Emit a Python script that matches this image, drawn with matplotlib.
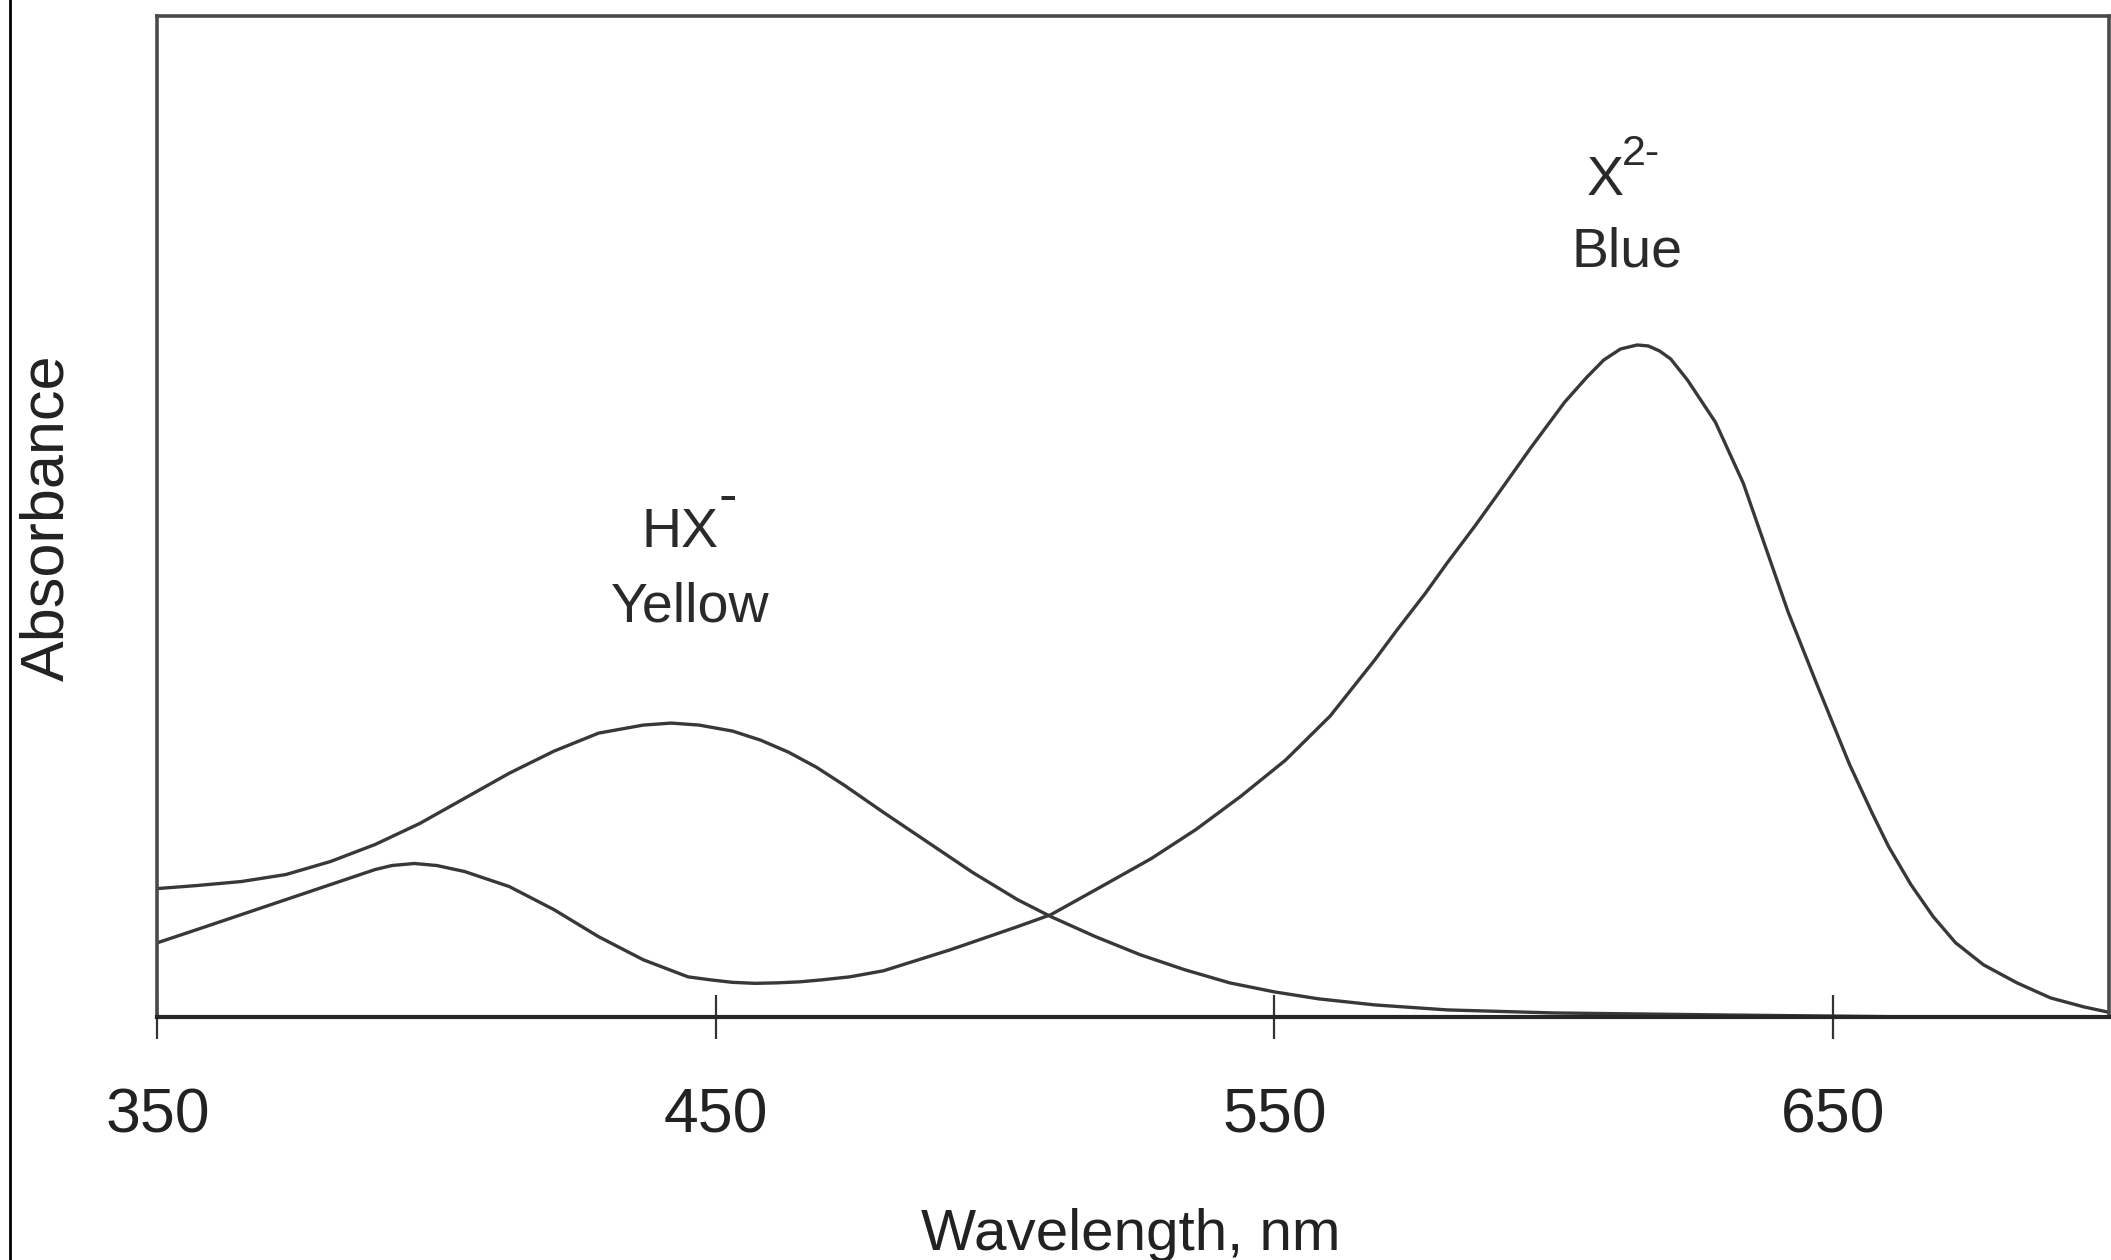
import matplotlib
matplotlib.use('Agg')
import matplotlib.pyplot as plt
from matplotlib.lines import Line2D

plt.rcParams['font.family'] = ['Liberation Sans', 'DejaVu Sans']

# Absorbance spectra (arbitrary units, 0..1)
hx_wavelength = [350, 357, 365, 373, 381, 389, 397, 405, 413, 421, 429, 437,
                 442, 447, 453, 458, 463, 468, 473, 480, 488, 496, 504, 510,
                 518, 526, 534, 542, 550, 558, 568, 581, 600, 630, 665, 700]
hx_absorbance = [0.130, 0.133, 0.137, 0.144, 0.157, 0.174, 0.195, 0.220,
                 0.245, 0.267, 0.285, 0.293, 0.295, 0.293, 0.287, 0.278,
                 0.266, 0.251, 0.233, 0.206, 0.176, 0.146, 0.119, 0.102,
                 0.082, 0.064, 0.049, 0.036, 0.027, 0.020, 0.014, 0.009,
                 0.006, 0.004, 0.002, 0.001]

x2_wavelength = [350, 357, 365, 373, 381, 389, 392, 396, 400, 405, 413, 421,
                 429, 437, 445, 449, 453, 457, 461, 465, 469, 474, 480, 492,
                 504, 510, 520, 528, 536, 544, 552, 560, 568, 572, 577, 581,
                 586, 590, 596, 602, 606, 609, 612, 615, 617, 619, 621, 624,
                 629, 634, 638, 642, 647, 653, 657, 660, 664, 668, 672, 677,
                 683, 689, 695, 700]
x2_absorbance = [0.076, 0.089, 0.104, 0.119, 0.134, 0.149, 0.153, 0.155,
                 0.153, 0.147, 0.132, 0.109, 0.082, 0.059, 0.042, 0.039,
                 0.0365, 0.0355, 0.036, 0.037, 0.039, 0.042, 0.048, 0.069,
                 0.092, 0.104, 0.135, 0.160, 0.189, 0.222, 0.258, 0.302,
                 0.358, 0.388, 0.424, 0.455, 0.492, 0.523, 0.570, 0.615,
                 0.640, 0.657, 0.668, 0.672, 0.671, 0.666, 0.658, 0.637,
                 0.595, 0.534, 0.470, 0.406, 0.336, 0.254, 0.206, 0.172,
                 0.134, 0.102, 0.076, 0.054, 0.036, 0.021, 0.012, 0.006]

x_ticks = [350, 450, 550, 650]

fig = plt.figure(figsize=(21.11, 12.6), dpi=100)
ax = fig.add_axes([0.0746, 0.1929, 0.9245, 0.7944])

line_color = '#383838'
ax.plot(hx_wavelength, hx_absorbance, color=line_color, lw=2.4,
        solid_joinstyle='round')
ax.plot(x2_wavelength, x2_absorbance, color=line_color, lw=2.4,
        solid_joinstyle='round')

ax.set_xlim(350, 699.5)
ax.set_ylim(0.002, 1.0)

for side in ['top', 'left', 'right']:
    ax.spines[side].set_color('#4a4a4a')
    ax.spines[side].set_linewidth(2.6)
ax.spines['bottom'].set_color('#262626')
ax.spines['bottom'].set_linewidth(3.0)

ax.set_xticks(x_ticks)
ax.set_xticklabels([str(t) for t in x_ticks])
ax.tick_params(axis='x', direction='inout', length=32, width=1.6,
               colors='#333333', labelsize=45, pad=34, labelcolor='#222222')
ax.set_yticks([])

# peak labels
txt = dict(fontsize=40, color='#2a2a2a', va='baseline')
ax.text(443.5, 0.4706, 'HX', ha='center', **txt)
ax.text(450.5, 0.5045, '-', ha='left', **txt)
ax.text(445.3, 0.396, 'Yellow', ha='center', **txt)
ax.text(609.3, 0.8215, 'X', ha='center', **txt)
ax.text(612.3, 0.8515, '2-', ha='left', fontsize=31, color='#2a2a2a',
        va='baseline')
ax.text(613.2, 0.7498, 'Blue', ha='center', **txt)

# axis titles
fig.text(1131 / 2111, 1 - 1250 / 1260, 'Wavelength, nm', fontsize=42,
         color='#222222', ha='center', va='baseline')
fig.text(63 / 2111, 1 - 518 / 1260, 'Absorbance', fontsize=44,
         color='#222222', rotation=90, rotation_mode='anchor',
         ha='center', va='baseline')

# frame line at the left edge of the image
fig.add_artist(Line2D([10 / 2111, 10 / 2111], [0, 1],
                      transform=fig.transFigure, color='black', lw=2))

fig.savefig('out.png', dpi=100)
